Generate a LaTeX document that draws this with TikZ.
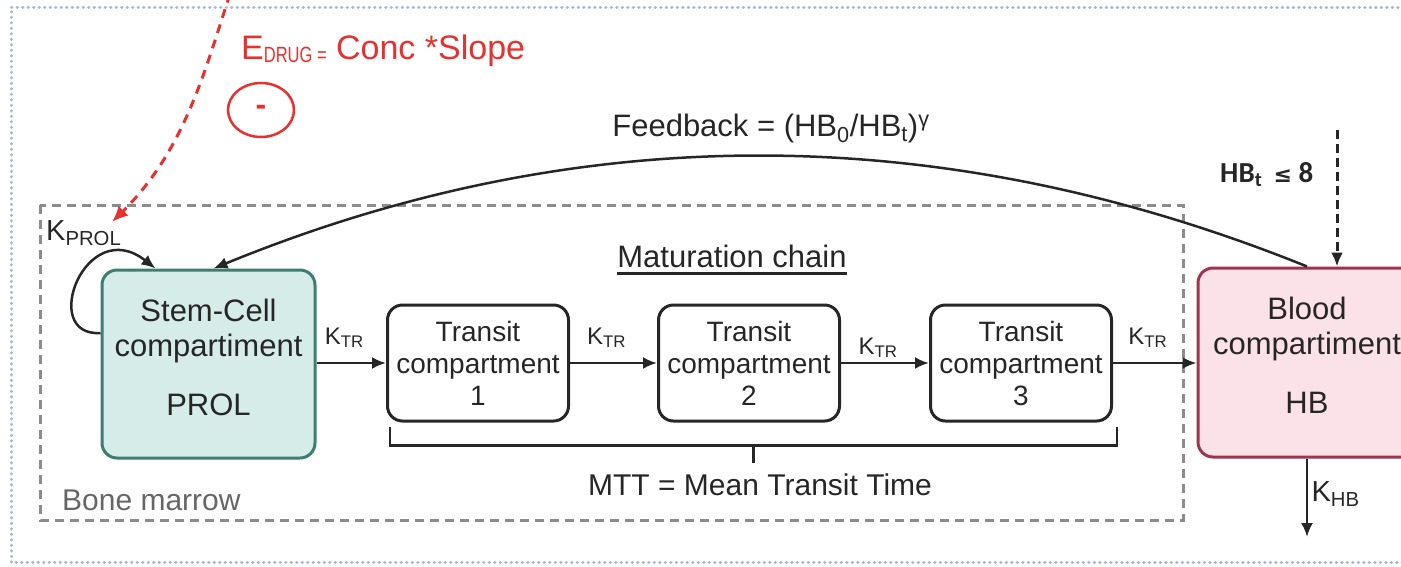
\documentclass[tikz,border=0pt]{standalone}
\usepackage{fontspec}
\setmainfont{Liberation Sans}
\newfontfamily\notefont{Carlito}
\newfontfamily\symfont{DejaVu Sans}
\usetikzlibrary{arrows.meta,positioning,calc,shapes.geometric}
\definecolor{stemfill}{HTML}{D5ECE8}
\definecolor{stemline}{HTML}{3F7C72}
\definecolor{bloodfill}{HTML}{FAE2E8}
\definecolor{bloodline}{HTML}{9C3452}
\definecolor{drugred}{HTML}{E8312E}
\definecolor{marrowgrey}{HTML}{8C8C8C}
\definecolor{marrowtext}{HTML}{666666}
\definecolor{framegrey}{HTML}{A9B7D6}
\definecolor{ink}{HTML}{262626}
\newcommand{\fs}[1]{\fontsize{#1}{#1}\selectfont}

\begin{document}
\begin{tikzpicture}[x=1pt, y=-1pt, text=ink,
  cell/.style={draw, rounded corners=15pt, line width=3pt, align=center},
  transit/.style={cell, draw=ink, minimum width=181pt, minimum height=116pt, font=\fontsize{28}{32}\selectfont},
  celltxt/.style={align=center, font=\fontsize{31}{35}\selectfont},
  flow/.style={-{Latex[length=14pt,width=12pt]}, line width=2.5pt, draw=ink},
  rate/.style={font=\fs{24}, inner sep=1pt, above=13pt, xshift=-7pt}]
\useasboundingbox (0,0) rectangle (1401,566);
\draw[framegrey, line width=3pt, line cap=round, dash pattern=on 0.5pt off 5pt] (1420,7) -- (11,7) -- (11,562) -- (1420,562);
\draw[marrowgrey, line width=3pt, dash pattern=on 9pt off 6pt] (40,205) rectangle (1183,520);

% compartments
\node[cell, fill=stemfill, draw=stemline, minimum width=213pt, minimum height=188pt] (stem) at (208.5,364) {};
\node[celltxt] (stemtxt) at ([yshift=7pt]stem.center) {Stem-Cell\\compartiment\\[24pt]PROL};
\node[transit] (t1) at (478,363) {Transit\\compartment\\1};
\node[transit, right=87pt of t1] (t2) {Transit\\compartment\\2};
\node[transit, right=88pt of t2] (t3) {Transit\\compartment\\3};
\node[cell, fill=bloodfill, draw=bloodline, minimum width=218pt, minimum height=189pt] (blood) at (1307,362.5) {};
\node[celltxt] (bloodtxt) at ([yshift=7pt]blood.center) {Blood\\compartiment\\[24pt]HB};

\node[font=\fs{31}, inner sep=0, anchor=base] (matur) at (732,267) {Maturation chain};
\draw[ink, line width=3pt] ([yshift=-6pt]matur.base west) -- ([yshift=-6pt]matur.base east);
\node[font=\fs{30}, anchor=base] (mtt) at (760,495) {MTT = Mean Transit Time};
\node[font=\fs{30}, text=marrowtext, anchor=base west, inner sep=0] (marrow) at (62,510) {Bone marrow};
\node[font=\fs{29}, anchor=base west, inner sep=0] (kprol) at (46,240) {K\textsubscript{PROL}};
\node[font=\fs{31}, anchor=base] (fblabel) at (771,136) {Feedback = (HB\textsubscript{0}/HB\textsubscript{t})\textsuperscript{γ}};
\node[font=\fs{34}, text=drugred, anchor=base west, inner sep=0] (edrug) at (241,59) {E\raisebox{-3pt}{\scalebox{0.75}[1]{\fs{22}DRUG =}} Conc *Slope};
\node[ellipse, draw=drugred, line width=2.5pt, minimum width=66pt, minimum height=54pt, text=drugred, font=\fs{32}\bfseries] (inhib) at (261,110) {-};
\node[font=\notefont\bfseries\fs{29}, anchor=base west, inner sep=0] (hbcut) at (1220,182) {HB\textsubscript{t}\, {\symfont\bfseries\fs{22}≤} 8};

\coordinate (drugsrc) at (230,-6);
\coordinate (drugtip) at (112,222);
\coordinate (hbsrc) at (1337,130);
\coordinate (hbout) at (1307,537);

% transit chain
\draw[flow] (t1.west -| stem.east) -- node[rate] {K\textsubscript{TR}} (t1.west);
\draw[flow] (t1) -- node[rate] {K\textsubscript{TR}} (t2);
\draw[flow] (t2) -- node[rate, yshift=-10pt] {K\textsubscript{TR}} (t3);
\draw[flow] (t3.east) -- node[rate] {K\textsubscript{TR}} (t3.east -| blood.west);
\draw[ink, line width=2.5pt] ([shift={(4,4)}]t1.south west) -- ++(0,19) -| ([shift={(4,4)}]t3.south east);
\coordinate (bracemid) at ($(t1.south west)!.5!(t3.south east)+(4,23)$);
\draw[ink, line width=2.5pt] (bracemid) -- ++(0,17);

% feedback, proliferation, elimination
\draw[flow] (blood.north) .. controls (942,119) and (578,119) .. ([xshift=5pt]stem.north);
\draw[flow] ([yshift=31pt]stem.west) .. controls +(-62,4) and +(-70,-55) .. ([xshift=-53pt]stem.north);
\draw[flow] (blood.south) -- node[font=\fs{29}, right, pos=0.45] (khb) {K\textsubscript{HB}} (hbout);

% drug effect and threshold
\draw[drugred, line width=3pt, dash pattern=on 9pt off 7pt, -{Latex[length=16pt,width=14pt]}] (drugsrc) .. controls (205,70) and (185,150) .. (drugtip);
\draw[ink, line width=3pt, dash pattern=on 9pt off 5pt, -{Latex[length=14pt,width=12pt]}] (hbsrc) -- (hbsrc |- blood.north);
\end{tikzpicture}
\end{document}
